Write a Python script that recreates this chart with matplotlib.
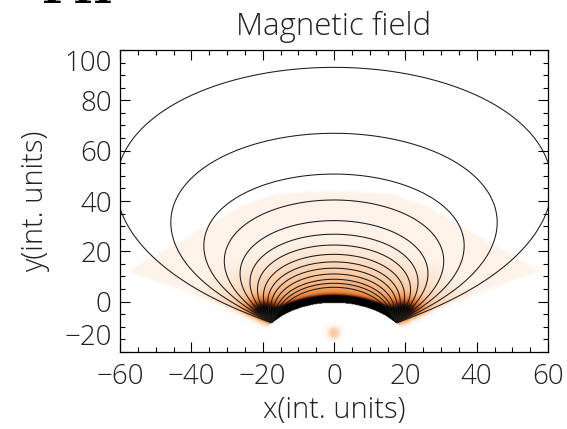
import numpy as np
import matplotlib
matplotlib.use("Agg")
import matplotlib.pyplot as plt
from matplotlib.colors import LinearSegmentedColormap
from matplotlib.path import Path

# --- values (data units)
X_LIM = (-60, 60)
Y_LIM = (-20, 100)
X_TICKS = [-60, -40, -20, 0, 20, 40, 60]
Y_TICKS = [-20, 0, 20, 40, 60, 80, 100]

# heights where the drawn field lines cross x = 0
APEX_Y = [93.1, 66.9, 50.7, 40.4, 32.2, 26.8, 22.5, 18.8, 15.8, 13.3,
          11.0, 8.9, 7.3, 5.7]

FOOT_X, FOOT_Y = 17.4, -8.5          # footpoints at (+/-FOOT_X, FOOT_Y)
STAR_X, STAR_Y, STAR_R = 0.0, -23.4, 22.9
STRETCH = (1.52, 0.03)               # sideways inflation of the loops
WEDGE_SLOPE = 0.48                   # lower edge of the shaded wings

# outline of the faint halo
HALO_X = [-58, -49, -36, -26, -16, 0, 16, 26, 36, 49, 58, 17.4, -17.4]
HALO_Y = [12, 19.3, 29.7, 38, 43, 44, 43, 38, 29.7, 19.3, 12, -8.5, -8.5]

# dark patches at the foot of the loops: |x|, y, radius
FOOT_SPOT = (20.0, -3.5, 4.5)

# small blob inside the body: x, y, sx, sy, level
BLOB = (0.0, -12.5, 1.7, 2.4, 0.2)

SHADE_COLORS = ["#ffffff", "#fef1e6", "#fcd8bb", "#f8b784", "#ef904c",
                "#d26a26", "#8c3a0c", "#3a1404", "#000000"]
SHADE_STOPS = [0.0, 0.05, 0.12, 0.25, 0.4, 0.55, 0.7, 0.85, 1.0]

FONT = "Open Sans"


def flux(x, y):
    """Bipole flux function, stretched sideways with height."""
    h = y - FOOT_Y
    s = STRETCH[0] + STRETCH[1] * np.clip(h, 0, None) / 100.0
    a = FOOT_X / STRETCH[0]
    xm = x / s
    hh = np.abs(h) + 1e-9
    c1 = (xm + a) / np.hypot(xm + a, hh)
    c2 = (xm - a) / np.hypot(xm - a, hh)
    return c1 - c2


def sigmoid(z):
    return 1.0 / (1.0 + np.exp(-z))


def blur(img, n):
    k = np.ones(2 * n + 1) / (2 * n + 1)
    img = np.apply_along_axis(lambda v: np.convolve(v, k, mode="same"), 0, img)
    return np.apply_along_axis(lambda v: np.convolve(v, k, mode="same"), 1, img)


# --- field lines
xg = np.linspace(-80, 80, 801)
yg = np.linspace(-20, 105, 626)
XG, YG = np.meshgrid(xg, yg)
psi = flux(XG, YG)
in_star = np.hypot(XG - STAR_X, YG - STAR_Y) < STAR_R
psi = np.ma.masked_where(in_star | (YG < FOOT_Y), psi)
levels = sorted(float(flux(0.0, y)) for y in APEX_Y)

# --- shading
xs = np.linspace(X_LIM[0], X_LIM[1], 481)
ys = np.linspace(Y_LIM[0], Y_LIM[1], 481)
X, Y = np.meshgrid(xs, ys)
r = np.hypot(X - STAR_X, Y - STAR_Y)
hs = np.clip(r - STAR_R, 0, None)
edge = FOOT_Y + WEDGE_SLOPE * (np.abs(X) - FOOT_X)
wing = np.where(np.abs(X) > FOOT_X, sigmoid((Y - edge) / 0.8), 1.0)
halo = Path(np.column_stack([HALO_X, HALO_Y])).contains_points(
    np.column_stack([X.ravel(), Y.ravel()])).reshape(X.shape).astype(float)
halo = blur(halo, 2)
core = sigmoid((2.8 - hs) / 0.5)
glow = 0.6 * np.exp(-hs / 7.0) + 0.1 * np.exp(-hs / 25.0) * halo
fx, fy, fr = FOOT_SPOT
dfp = np.hypot(np.abs(X) - fx, Y - fy)
foot = 0.7 * np.exp(-(dfp / fr) ** 2)
dens = np.clip(core + glow + foot, 0, 1) * wing
dens = np.maximum(dens, 0.045 * halo * wing)
dens[r < STAR_R] = 0.0
bx, by, bw, bh, bl = BLOB
dens += bl * np.exp(-((X - bx) / bw) ** 2 - ((Y - by) / bh) ** 2)

cmap = LinearSegmentedColormap.from_list(
    "heat", list(zip(SHADE_STOPS, SHADE_COLORS)))

fig = plt.figure(figsize=(5.67, 4.29), dpi=100)
ax = fig.add_axes([120 / 567, 1 - 352 / 429, 428 / 567, 302 / 429])
ax.imshow(dens, extent=[X_LIM[0], X_LIM[1], Y_LIM[0], Y_LIM[1]],
          origin="lower", cmap=cmap, vmin=0, vmax=1, aspect="auto",
          interpolation="bilinear", zorder=0)
ax.contour(XG, YG, psi, levels=levels, colors="#1a1a1a",
           linewidths=0.75, zorder=2)

ax.set_xlim(*X_LIM)
ax.set_ylim(*Y_LIM)
ax.set_xticks(X_TICKS)
ax.set_yticks(Y_TICKS)
ax.set_xticks(np.arange(-60, 61, 5), minor=True)
ax.set_yticks(np.arange(-20, 101, 5), minor=True)
ax.tick_params(which="both", direction="in", top=True, right=True,
               width=0.8, labelsize=20, labelcolor="#222222")
ax.tick_params(axis="x", pad=8)
ax.tick_params(axis="y", pad=6)
ax.tick_params(which="major", length=7.2)
ax.tick_params(which="minor", length=3.6)
for lab in ax.get_xticklabels() + ax.get_yticklabels():
    lab.set_fontfamily(FONT)
    lab.set_fontweight("light")
ylabs = ax.get_yticklabels()
ylabs[0].set_verticalalignment("bottom")
ylabs[-1].set_verticalalignment("top")
for sp in ax.spines.values():
    sp.set_linewidth(0.9)

ax.set_title("Magnetic field", fontsize=22.5, family=FONT, weight="light",
             color="#222222", pad=11)
ax.set_xlabel("x(int. units)", fontsize=21, family=FONT, weight="light",
              color="#222222", labelpad=3)
ax.set_ylabel("y(int. units)", fontsize=21, family=FONT, weight="light",
              color="#222222", labelpad=10)

# bottom of a heading cut off by the top edge
fig.text(42 / 567, 1 - 3 / 429, "PH", family="DejaVu Serif",
         weight="bold", fontsize=30, va="baseline", ha="left")

fig.savefig("out.png", dpi=100, facecolor="white")
